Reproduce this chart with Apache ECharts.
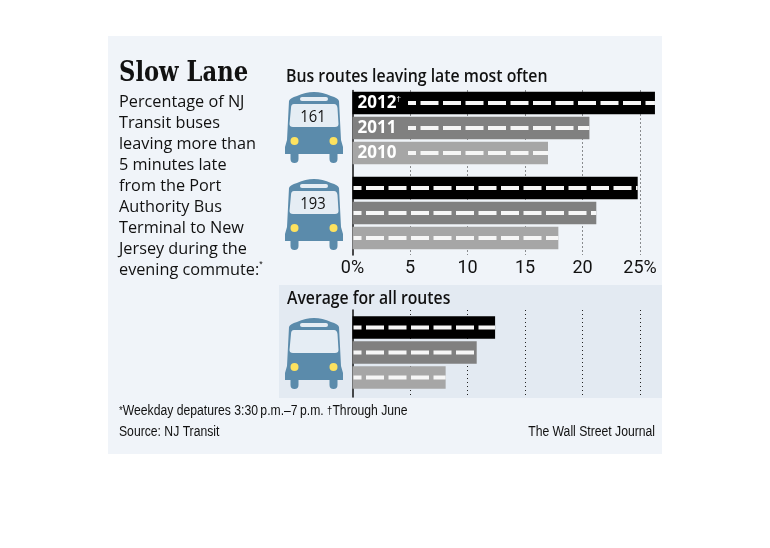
<!DOCTYPE html>
<html>
<head>
<meta charset="utf-8">
<style>
  html, body { margin: 0; padding: 0; background: #fff; }
  #chart { width: 770px; height: 548px; }
</style>
<script src="https://cdn.jsdelivr.net/npm/echarts@6/dist/echarts.min.js"></script>
</head>
<body>
<div id="chart"></div>
<script>
// values
const years = ["2012", "2011", "2010"];
const routes = ["161", "193"];
const route161 = [26.3, 20.6, 17];
const route193 = [24.8, 21.2, 17.9];
const average = [12.4, 10.8, 8.1];
const ticks = ["0%", "5", "10", "15", "20", "25%"];

const title = "Slow Lane";
const subtitle = ["Percentage of NJ", "Transit buses", "leaving more than", "5 minutes late", "from the Port", "Authority Bus", "Terminal to New", "Jersey during the", "evening commute:{s|*}"];
const topHeading = "Bus routes leaving late most often";
const avgHeading = "Average for all routes";
const footnote = "{s|*}Weekday depatures 3:30\u2009p.m.\u20137\u2009p.m. {s|\u2020}Through June";
const source = "Source: NJ Transit";
const credit = "The Wall Street Journal";

const barColors = ["#000000", "#808080", "#a6a6a6"];
const BODY = "'Open Sans', sans-serif";
const FOOT = "'Liberation Sans', sans-serif";

// bus outlines for the graphic component
echarts.graphic.registerShape("busBody", echarts.graphic.extendPath("M4 9 Q5 6 12 4 Q29 -4 46 4 Q53 6 54 9 L56 48 L58 55 L58 62 L52.5 62 L52.5 67 Q52.5 71 48.5 71 Q44.5 71 44.5 67 L44.5 62 L13.5 62 L13.5 67 Q13.5 71 9.5 71 Q5.5 71 5.5 67 L5.5 62 L0 62 L0 55 L2 48 Z", {}));
echarts.graphic.registerShape("busWindow", echarts.graphic.extendPath("M9 12 L49 12 Q52 12 52.5 16 L53.5 32 Q53.5 35 50 35 L8 35 Q4.5 35 4.5 32 L6 16 Q6 12 9 12 Z", {}));

// [value, row, yearIndex, hasLabel]  row is in bar heights, the second route sits a bit lower
function rows(values, offset, labelled) {
  return values.map((v, i) => [v, offset + i, i, labelled ? 1 : 0]);
}

function renderRoad(params, api) {
  const val = api.value(0), row = api.value(1), yi = api.value(2), labelled = api.value(3);
  const start = api.coord([0, row]);
  const end = api.coord([val, row]);
  const h = 22.5;
  const x0 = labelled ? start[0] + 55.5 : start[0] + 1;
  const children = [
    { type: "rect", shape: { x: start[0], y: start[1] - h / 2, width: end[0] - start[0], height: h },
      style: { fill: barColors[yi] } },
    { type: "line", shape: { x1: x0, y1: start[1], x2: end[0], y2: start[1] },
      style: { stroke: "#f6f6f6", lineWidth: 4, lineDash: [18, 4.5], lineDashOffset: 10, fill: null } }
  ];
  if (labelled) {
    children.push({ type: "text", style: { x: start[0] + 5, y: start[1] + 0.5, text: years[yi] + (yi === 0 ? "{s|\u2020}" : ""),
      fill: "#fff", font: "bold 17px " + BODY, verticalAlign: "middle",
      rich: { s: { fontSize: 8, fill: "#fff", verticalAlign: "top", padding: [0, 0, 8, 0] } } } });
  }
  return { type: "group", children: children };
}

function bus(x, y, label) {
  const light = "#e5edf4", blue = "#5b8bab", yellow = "#fde25f";
  const children = [
    { type: "busBody", style: { fill: blue } },
    { type: "rect", shape: { x: 15, y: 5, width: 28, height: 4, r: 2 }, style: { fill: light } },
    { type: "busWindow", style: { fill: light } },
    { type: "circle", shape: { cx: 9.5, cy: 49, r: 4 }, style: { fill: yellow } },
    { type: "circle", shape: { cx: 48.5, cy: 49, r: 4 }, style: { fill: yellow } }
  ];
  if (label) {
    children.push({ type: "text", x: 28, y: 25, scaleX: 0.87, style: { text: label, fill: "#111", font: "500 17px " + BODY, align: "center", verticalAlign: "middle" } });
  }
  return { type: "group", x: x, y: y, z: 1, children: children };
}

function text(x, y, str, font, extra, scaleX) {
  return { type: "text", x: x, y: y, z: 5, scaleX: scaleX || 1, style: Object.assign({ text: str, font: font, fill: "#111", verticalAlign: "middle" }, extra || {}) };
}

const xBase = {
  type: "value", min: 0, max: 26.5, interval: 5,
  axisLine: { show: false }, axisTick: { show: false },
  splitLine: { show: true, showMinLine: false, showMaxLine: false, lineStyle: { color: "#222", type: [1, 3], width: 1 } }
};
const yBase = {
  type: "value", inverse: true,
  axisLine: { show: true, onZero: false, lineStyle: { color: "#111", width: 1.5 } },
  axisTick: { show: false }, axisLabel: { show: false }, splitLine: { show: false }
};

const chart = echarts.init(document.getElementById("chart"), null, { renderer: "canvas" });
chart.setOption({
  animation: false,
  backgroundColor: "#fff",
  grid: [
    { left: 352.5, top: 90.5, width: 304.75, height: 164.5 },
    { left: 352.5, top: 310, width: 304.75, height: 87 }
  ],
  xAxis: [
    Object.assign({}, xBase, { gridIndex: 0,
      axisLabel: { show: true, margin: 4, showMaxLabel: false, color: "#111", fontFamily: "Roboto", fontSize: 18,
        formatter: v => ticks[v / 5] } }),
    Object.assign({}, xBase, { gridIndex: 1, axisLabel: { show: false } })
  ],
  yAxis: [
    Object.assign({}, yBase, { gridIndex: 0, min: -0.5, max: 6.08 }),
    Object.assign({}, yBase, { gridIndex: 1, min: -0.7, max: 2.78 })
  ],
  series: [
    { type: "custom", name: routes[0], xAxisIndex: 0, yAxisIndex: 0, clip: false, renderItem: renderRoad, data: rows(route161, 0, true), z: 3 },
    { type: "custom", name: routes[1], xAxisIndex: 0, yAxisIndex: 0, clip: false, renderItem: renderRoad, data: rows(route193, 3.4, false), z: 3 },
    { type: "custom", name: "Average", xAxisIndex: 1, yAxisIndex: 1, clip: false, renderItem: renderRoad, data: rows(average, 0, false), z: 3 }
  ],
  graphic: [
    { type: "rect", z: -10, shape: { x: 108, y: 36, width: 554, height: 418 }, style: { fill: "#f0f4f9" } },
    { type: "rect", z: -9, shape: { x: 279, y: 285, width: 383, height: 113 }, style: { fill: "#e3eaf2" } },
    bus(285, 92, routes[0]),
    bus(285, 179, routes[1]),
    bus(285, 318, null),
    text(119, 74, title, "bold 27px 'DejaVu Serif', serif", null, 0.84),
    text(119, 92, subtitle.join("\n"), "500 16.5px " + BODY, {
      verticalAlign: "top", lineHeight: 21,
      rich: { s: { fontSize: 9, verticalAlign: "top" } }
    }, 0.985),
    text(286, 77, topHeading, "600 18px " + BODY, null, 0.88),
    text(287, 299, avgHeading, "600 18px " + BODY, null, 0.875),
    text(119, 411, footnote, "14px " + FOOT, { rich: { s: { fontSize: 11 } } }, 0.87),
    text(119, 432, source, "14px " + FOOT, null, 0.87),
    text(655, 432, credit, "14px " + FOOT, { align: "right" }, 0.87)
  ]
});
</script>
</body>
</html>
